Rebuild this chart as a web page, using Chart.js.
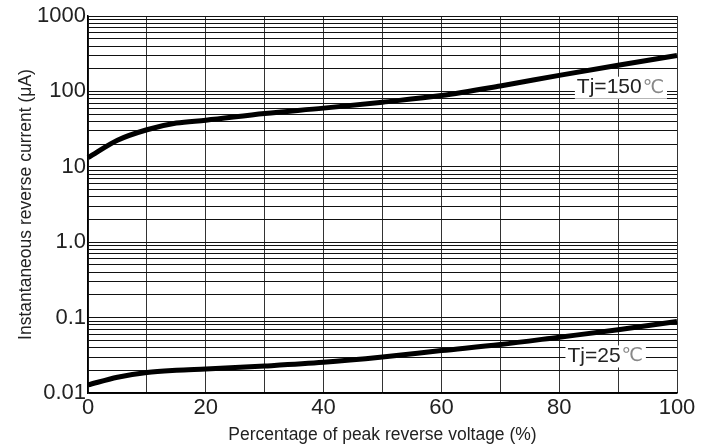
<!DOCTYPE html>
<html>
<head>
<meta charset="utf-8">
<script src="https://cdn.jsdelivr.net/npm/chart.js@4"></script>
<style>
  body { margin: 0; background: #fff; }
</style>
</head>
<body>
<canvas id="chart" width="711" height="446"></canvas>
<script>
// percentage of peak reverse voltage
const voltagePct = [0, 5, 10, 15, 20, 30, 40, 50, 60, 70, 80, 90, 100];
// reverse current in uA
const current150 = [13.2, 22.5, 31, 38, 41.5, 51, 60, 72, 88, 118, 163, 222, 300];
const current25 = [0.0128, 0.0162, 0.0187, 0.0200, 0.0208, 0.0228, 0.0255, 0.030, 0.0365, 0.044, 0.055, 0.069, 0.089];

const yTickValues = [0.01, 0.1, 1, 10, 100, 1000];
const yTickLabels = ["0.01", "0.1", "1.0", "10", "100", "1000"];
const xTickLabels = [0, 20, 40, 60, 80, 100];

const seriesLabels = ["Tj=150", "Tj=25"];
// label anchor (left edge, vertical centre) in data units
const labelAt = [{ x: 83, y: 112 }, { x: 81.4, y: 0.0305 }];

const FONT = "'Liberation Sans', Arial, sans-serif";

// minor log grid: 1..9 per decade
const yGrid = [];
yTickValues.forEach((d, i) => {
  if (i === yTickValues.length - 1) { yGrid.push(d); return; }
  for (let m = 1; m <= 9; m++) yGrid.push(+(d * m).toPrecision(3));
});

const curveLabels = {
  id: "curveLabels",
  afterDatasetsDraw(chart) {
    const { ctx, scales } = chart;
    ctx.save();
    labelAt.forEach((p, i) => {
      const x = scales.x.getPixelForValue(p.x);
      const y = scales.y.getPixelForValue(p.y);
      ctx.font = "21px " + FONT;
      const w1 = ctx.measureText(seriesLabels[i]).width;
      ctx.font = "19px 'DejaVu Sans', sans-serif";
      const w2 = ctx.measureText("\u2103").width;
      ctx.fillStyle = "#fff";
      ctx.fillRect(x - 2, y - 11, w1 + w2 + 6, 22);
      ctx.textBaseline = "middle";
      ctx.fillStyle = "#222";
      ctx.font = "21px " + FONT;
      ctx.fillText(seriesLabels[i], x, y);
      ctx.fillStyle = "#888";
      ctx.font = "19px 'DejaVu Sans', sans-serif";
      ctx.fillText("\u2103", x + w1 + 1, y);
    });
    ctx.restore();
  }
};

new Chart(document.getElementById("chart"), {
  type: "line",
  data: {
    datasets: [
      {
        data: voltagePct.map((v, i) => ({ x: v, y: current150[i] })),
        borderColor: "#000",
        borderWidth: 5,
        pointRadius: 0,
        cubicInterpolationMode: "monotone",
      },
      {
        data: voltagePct.map((v, i) => ({ x: v, y: current25[i] })),
        borderColor: "#000",
        borderWidth: 5,
        pointRadius: 0,
        cubicInterpolationMode: "monotone",
      },
    ],
  },
  options: {
    responsive: false,
    animation: false,
    clip: false,
    layout: { padding: { left: 0, right: 34, top: 16, bottom: 0 } },
    plugins: { legend: { display: false }, tooltip: { enabled: false } },
    scales: {
      x: {
        type: "linear",
        min: 0,
        max: 100,
        afterFit: (scale) => { scale.height = 53; },
        ticks: {
          stepSize: 10,
          autoSkip: false,
          maxRotation: 0,
          padding: 2,
          color: "#222",
          font: { family: FONT, size: 22 },
          callback: (v) => (xTickLabels.includes(v) ? v : ""),
        },
        grid: { color: "#333", lineWidth: 1, drawTicks: false },
        border: { color: "#000", width: 1.5 },
        title: {
          display: true,
          text: "Percentage of peak reverse voltage (%)",
          color: "#222",
          font: { family: FONT, size: 17.5 },
          padding: { top: 0, bottom: 0 },
        },
      },
      y: {
        type: "logarithmic",
        min: 0.01,
        max: 1000,
        afterFit: (scale) => { scale.width = 88; },
        afterBuildTicks: (scale) => { scale.ticks = yGrid.map((v) => ({ value: v })); },
        ticks: {
          autoSkip: false,
          padding: 2,
          color: "#222",
          font: { family: FONT, size: 22 },
          callback: (v) => {
            const i = yTickValues.indexOf(v);
            return i >= 0 ? yTickLabels[i] : "";
          },
        },
        grid: { color: "#111", lineWidth: 1, drawTicks: false },
        border: { color: "#000", width: 1.5 },
        title: {
          display: true,
          text: "Instantaneous reverse current (\u03bcA)",
          color: "#222",
          font: { family: FONT, size: 17.5 },
          padding: { top: 16, bottom: 0 },
        },
      },
    },
  },
  plugins: [curveLabels],
});
</script>
</body>
</html>
